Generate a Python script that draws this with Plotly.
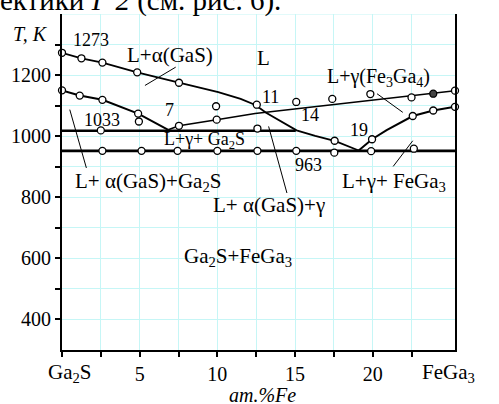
import plotly.graph_objects as go

# ---------------- data ----------------
# liquidus of alpha(GaS): from 1273 K down through point 11 to the eutectic 19
liq_alpha_x = [0, 1.25, 2.6, 4.84, 7.53, 10.06, 11.5, 12.45, 13.14, 14.26, 15.1, 16.3, 17.6, 19.1]
liq_alpha_T = [1273, 1255, 1241, 1209, 1175, 1144, 1122, 1102, 1077, 1043, 1019, 1001, 984, 953]

# lower branch from Ga2S down to point 7
liq_ga2s_x = [0, 1.14, 2.6, 4.9, 6.84]
liq_ga2s_T = [1150, 1133, 1119, 1074, 1021]

# gamma(Fe3Ga4) boundary from point 7 up to 1138 K
liq_gamma_x = [6.84, 7.53, 9.96, 12.43, 25.3]
liq_gamma_T = [1021, 1034, 1054, 1074, 1149]

# FeGa3 branch from eutectic 19 up to 1097 K
liq_fega3_x = [19.1, 19.96, 20.9, 22.58, 23.9, 25.3]
liq_fega3_T = [953, 990, 1020, 1066, 1084, 1096]

# invariant horizontals (1033 K and 963 K)
iso_1033_x = [0, 15.05]
iso_1033_T = [1018, 1018]
iso_963_x = [0, 25.3]
iso_963_T = [952, 952]

# experimental points (open circles)
pts_x = [0, 1.25, 2.6, 4.84, 7.53,
         0, 1.14, 2.6, 4.9, 4.95,
         7.53, 9.96, 9.92,
         12.54,
         15.08, 17.4, 19.85, 22.5, 25.3,
         17.55,
         19.96, 22.58, 23.9, 25.3,
         2.5, 12.58,
         2.6, 5.12, 7.44, 10.0, 12.58, 15.08, 17.53, 19.9, 22.65]
pts_T = [1273, 1255, 1241, 1209, 1175,
         1150, 1133, 1119, 1074, 1048,
         1034, 1054, 1098,
         1103,
         1112, 1122, 1138, 1127, 1149,
         985,
         990, 1066, 1084, 1096,
         1019, 1025,
         952, 952, 952, 952, 952, 952, 946, 951, 959]
# filled point
filled_x = [23.9]
filled_T = [1139]

# thin leader lines pointing labels into their fields
leaders = [
    ((5.34, 1166), (7.32, 1226)),
    ((0.5, 1087), (1.57, 896)),
    ((13.3, 1032), (14.48, 814)),
    ((20.28, 1139), (21.94, 1078)),
    ((22.58, 985), (21.32, 901)),
]

# axis ticks
x_tick_vals = [5, 10, 15, 20]
x_tick_text = ["5", "10", "15", "20"]
x_minor_vals = [0, 2.5, 7.5, 12.5, 17.5, 22.5]
x_end_labels = [("Ga<sub>2</sub>S", 0), ("FeGa<sub>3</sub>", 25)]
y_tick_vals = [400, 600, 800, 1000, 1200]
y_minor_vals = [500, 700, 900, 1100, 1300]

# field / point labels: text, x, T, size
labels = [
    ("1273", 1.85, 1316, 18),
    ("L+α(GaS)", 6.95, 1267, 21),
    ("L", 13.0, 1257, 21),
    ("7", 6.95, 1087, 18),
    ("1033", 2.6, 1052, 18),
    ("L+γ+ Ga<sub>2</sub>S", 9.2, 986, 18),
    ("L+ α(GaS)+Ga<sub>2</sub>S", 5.53, 851, 21),
    ("11", 13.4, 1128, 18),
    ("14", 15.94, 1070, 18),
    ("19", 19.1, 1021, 18),
    ("963", 15.9, 907, 18),
    ("L+ α(GaS)+γ", 13.34, 775, 21),
    ("Ga<sub>2</sub>S+FeGa<sub>3</sub>", 11.34, 606, 21),
    ("L+γ+ FeGa<sub>3</sub>", 21.4, 851, 21),
    ("L+γ(Fe<sub>3</sub>Ga<sub>4</sub>)", 20.37, 1191, 20),
    ("1138", 26.95, 1163, 18),
    ("1097", 26.8, 1081, 18),
]

# ---------------- figure ----------------
GRID = "#c6f6f6"
XMAX = 25.3

fig = go.Figure()

def f(s):
    return dict(family="Liberation Serif", size=s, color="black")

def curve(x, y, w):
    fig.add_trace(go.Scatter(x=x, y=y, mode="lines", line=dict(color="black", width=w),
                             hoverinfo="skip", showlegend=False, cliponaxis=False))

lx, ly = [], []
for (a, b) in leaders:
    lx += [a[0], b[0], None]
    ly += [a[1], b[1], None]
fig.add_trace(go.Scatter(x=lx, y=ly, mode="lines", line=dict(color="black", width=1),
                         hoverinfo="skip", showlegend=False))

curve(liq_alpha_x, liq_alpha_T, 1.8)
curve(liq_ga2s_x, liq_ga2s_T, 2.0)
curve(liq_gamma_x, liq_gamma_T, 1.6)
curve(liq_fega3_x, liq_fega3_T, 2.0)
curve(iso_1033_x, iso_1033_T, 2.6)
curve(iso_963_x, iso_963_T, 2.6)

fig.add_trace(go.Scatter(x=pts_x, y=pts_T, mode="markers",
                         marker=dict(symbol="circle", size=7, color="white",
                                     line=dict(color="black", width=1.3)),
                         hoverinfo="skip", showlegend=False, cliponaxis=False))
fig.add_trace(go.Scatter(x=filled_x, y=filled_T, mode="markers",
                         marker=dict(symbol="circle", size=7, color="#444444",
                                     line=dict(color="black", width=1.3)),
                         hoverinfo="skip", showlegend=False, cliponaxis=False))

annotations = []
for text, x, y, s in labels:
    annotations.append(dict(text=text, x=x, y=y, xref="x", yref="y", showarrow=False,
                            xanchor="center", yanchor="middle", font=f(s)))
for text, x in x_end_labels:
    annotations.append(dict(text=text, x=x, y=300, xref="x", yref="y", showarrow=False,
                            xanchor="center", yanchor="top", yshift=-8,
                            xshift=8 if x == 0 else -2, font=f(21)))
annotations.append(dict(text="<i>T, K</i>", x=0, y=1333, xref="x", yref="y",
                        showarrow=False, xanchor="center", yanchor="middle", xshift=-32,
                        font=f(20)))
annotations.append(dict(text="<i>am.%Fe</i>", x=12.9, y=300, xref="x", yref="y",
                        showarrow=False, xanchor="center", yanchor="top", yshift=-32,
                        font=f(20)))
# cropped page text at the very top
annotations.append(dict(text="ектики <i>Г</i> <i>2</i> (см. рис. 6).", x=0, y=1,
                        xref="paper", yref="paper", showarrow=False,
                        xanchor="left", yanchor="bottom", xshift=-64, yshift=-5,
                        font=f(29)))

fig.update_layout(
    width=499, height=404,
    margin=dict(l=62, r=44, t=14, b=54),
    paper_bgcolor="white", plot_bgcolor="white",
    annotations=annotations,
    shapes=[dict(type="line", xref="x", yref="y", x0=0, x1=XMAX, y0=1400, y1=1400,
                 line=dict(color=GRID, width=1), layer="below")],
    xaxis=dict(range=[0, XMAX], showline=True, linecolor="black", linewidth=2,
               ticks="outside", ticklen=5, tickwidth=1.5, tickcolor="black",
               tickvals=x_tick_vals, ticktext=x_tick_text,
               showgrid=True, gridcolor=GRID, gridwidth=1, zeroline=False,
               tickfont=f(20),
               minor=dict(tickvals=x_minor_vals, ticks="outside", ticklen=5, tickwidth=1.5,
                          tickcolor="black", showgrid=True, gridcolor=GRID, gridwidth=1)),
    yaxis=dict(range=[300, 1400], showline=True, linecolor="black", linewidth=2, mirror=True,
               ticks="outside", ticklen=5, tickwidth=1.5, tickcolor="black",
               tickvals=y_tick_vals,
               showgrid=True, gridcolor=GRID, gridwidth=1, zeroline=False,
               tickfont=f(20),
               minor=dict(tickvals=y_minor_vals, ticks="outside", ticklen=5, tickwidth=1.5,
                          tickcolor="black", showgrid=True, gridcolor=GRID, gridwidth=1)),
)

fig.write_html("out.html", config={"displayModeBar": False},
               post_script="document.body.style.margin='0';")
